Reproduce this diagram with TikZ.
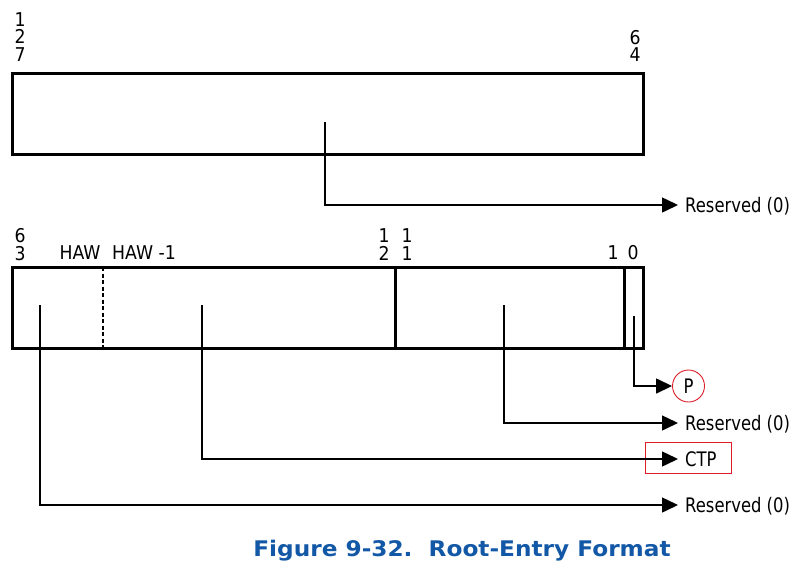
\documentclass[tikz,border=0pt]{standalone}
\usepackage{fontspec}
\setmainfont{DejaVu Sans}[FakeStretch=0.82]
\newfontfamily\bitfont{DejaVu Sans}[FakeStretch=0.91]
\newfontfamily\captfont{DejaVu Sans}[FakeStretch=1.08]
\usetikzlibrary{arrows.meta,positioning}
\definecolor{capblue}{RGB}{18, 88, 166}
\definecolor{markred}{RGB}{220, 30, 40}
\tikzset{
 field/.style={line width=3pt},
 bitno/.style={inner sep=0pt, align=center, font=\bitfont\fontsize{19}{17.5}\selectfont},
 conn/.style={line width=1.5pt, -{Triangle[length=16pt,width=15pt]}},
 fieldname/.style={anchor=west, inner xsep=7pt, inner ysep=0pt, text height=14.5pt, text depth=0pt, font=\fontsize{20}{22}\selectfont}
}

\begin{document}
\begin{tikzpicture}[x=1pt, y=-1pt]
 \useasboundingbox (0,0) rectangle (805,570);

 % upper 64 bits
 \draw[field] (12,73) rectangle (643,154);
 \node[bitno] (b127) at (20,37) {1\\2\\7};
 \node[bitno] (b64) at (635,46) {6\\4};

 % lower 64 bits
 \draw[field] (12,267) rectangle (643,348);
 \draw[line width=1.3pt, dash pattern=on 4pt off 2.5pt] (103,267) -- (103,348);
 \draw[line width=3pt] (395,267) -- (395,348);
 \draw[line width=3pt] (624,267) -- (624,348);
 \node[bitno] (b63) at (20,244.5) {6\\3};
 \node[bitno] (haw) at (80,253) {HAW};
 \node[bitno] (hawm) at (144,253) {HAW -1};
 \node[bitno] (b12) at (384,244.5) {1\\2};
 \node[bitno] (b11) at (407,244.5) {1\\1};
 \node[bitno] (b1) at (613,253) {1};
 \node[bitno] (b0) at (633,253) {0};

 % field names
 \node[fieldname] (rsvhi) at (678,205) {Reserved (0)};
 \node[draw=markred, line width=0.9pt, circle, minimum size=32pt, inner sep=0pt, font=\fontsize{20}{22}\selectfont] (p) at (688.5,386) {P};
 \node[fieldname] (rsvmid) at (678,423) {Reserved (0)};
 \node[fieldname] (ctp) at (678,459) {CTP};
 \node[draw=markred, line width=0.9pt, minimum width=86pt, minimum height=31pt, inner sep=0pt] (ctpmark) at (688,457.5) {};
 \node[fieldname] (rsvlo) at (678,505) {Reserved (0)};

 \coordinate (fhi) at (325,122);
 \coordinate (fp) at (634,316);
 \coordinate (fmid) at (504,305);
 \coordinate (fctp) at (202,305);
 \coordinate (flo) at (40,305);

 \draw[conn] (fhi) |- (rsvhi.west);
 \draw[conn] (fp) |- (p.west);
 \draw[conn] (fmid) |- (rsvmid.west);
 \draw[conn] (fctp) |- (ctp.west);
 \draw[conn] (flo) |- (rsvlo.west);

 \node[text=capblue, font=\captfont\bfseries\fontsize{21.5}{23}\selectfont] (caption) at (462,551) {Figure 9-32.\ \ Root-Entry Format};
\end{tikzpicture}
\end{document}
